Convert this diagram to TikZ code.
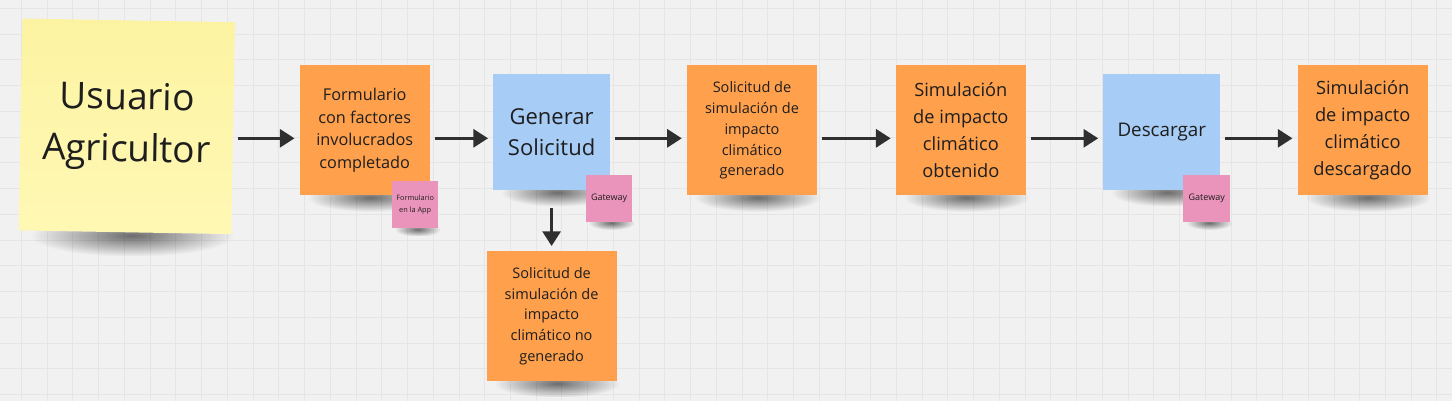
\documentclass[tikz,border=0pt]{standalone}
\usepackage{fontspec}
\setmainfont{Open Sans}
\usetikzlibrary{arrows.meta,fadings,calc}
\definecolor{bg}{HTML}{F1F1F1}
\definecolor{gridc}{HTML}{E5E5E5}
\definecolor{cyeltop}{HTML}{FCF3A2}
\definecolor{cyelbot}{HTML}{FFF8B4}
\definecolor{cora}{HTML}{FFA04C}
\definecolor{cblu}{HTML}{A7CCF5}
\definecolor{cpink}{HTML}{EA94BC}
\definecolor{ink}{HTML}{1E1E1E}
\definecolor{arrowc}{HTML}{2F2F2F}
\pgfdeclarelayer{bgl}
\pgfdeclarelayer{shadowl}
\pgfsetlayers{bgl,shadowl,main}
\tikzfading[name=softshadow, inner color=transparent!0, outer color=transparent!100]
\tikzset{
  note/.style={draw=none, inner sep=0pt, align=center, text=ink},
  onote/.style={note, fill=cora, minimum width=97.5pt, minimum height=97.5pt},
  bnote/.style={note, fill=cblu, minimum width=87.5pt, minimum height=87.5pt},
  pnote/.style={note, fill=cpink, minimum width=35pt, minimum height=35pt},
  shd/.style={fill=black, fill opacity=0.55, path fading=softshadow},
  flow/.style={draw=arrowc, line width=2.25pt,
    -{Triangle[length=11pt,width=13.5pt]}, shorten <=3.75pt, shorten >=3.75pt},
  fsmall/.style={font=\fontsize{10.9}{15.7}\selectfont},
  fmid/.style={font=\fontsize{13.7}{20.2}\selectfont},
}
\begin{document}
\begin{tikzpicture}[x=0.75pt,y=-0.75pt]
\begin{pgfonlayer}{bgl}
\fill[bg] (0,0) rectangle (1452,401);
\foreach \i in {0,...,55} \draw[gridc, line width=0.6pt] (21+\i*25.75,0) -- (21+\i*25.75,401);
\foreach \j in {0,...,15} \draw[gridc, line width=0.6pt] (0,8+\j*25.75) -- (1452,8+\j*25.75);
\end{pgfonlayer}
\useasboundingbox (0,0) rectangle (1452,401);

% main nodes
\node[note, top color=cyeltop, bottom color=cyelbot, minimum width=159.5pt, minimum height=159pt, rotate=-1,
  font=\fontsize{27.75}{39}\selectfont] (user) at (126.5,126) {Usuario\\Agricultor};
\node[onote, font=\fontsize{12.2}{16.9}\selectfont] (form) at (364.5,130)
  {Formulario\\con factores\\involucrados\\completado};
\node[bnote, font=\fontsize{16.5}{23}\selectfont] (gen) at (551.5,131.5) {Generar\\Solicitud};
\node[onote, fsmall] (solg) at (752,130)
  {Solicitud de\\simulación de\\impacto\\climático\\generado};
\node[onote, fmid] (simo) at (961,130)
  {Simulación\\de impacto\\climático\\obtenido};
\node[bnote, font=\fontsize{14.1}{20}\selectfont] (desc) at (1162,131.5) {Descargar};
\node[onote, fmid] (simd) at (1363,130)
  {Simulación\\de impacto\\climático\\descargado};
\node[onote, fsmall] (solng) at (551.5,316)
  {Solicitud de\\simulación de\\impacto\\climático no\\generado};

% small pink notes
\node[pnote, font=\fontsize{5.5}{8.8}\selectfont] (app) at (415,204.5) {Formulario\\en la App};
\node[pnote, font=\fontsize{6.75}{9}\selectfont] (gw1) at (609,198) {Gateway};
\node[pnote, font=\fontsize{6.75}{9}\selectfont] (gw2) at (1207,198) {Gateway};

% shadows
\begin{pgfonlayer}{shadowl}
\fill[shd] ($(user.south west)+(12,-16)$) rectangle ($(user.south east)+(2,22)$);
\foreach \n in {form,gen,solg,simo,desc,simd,solng}
  \fill[shd] ($(\n.south west)+(8,-12)$) rectangle ($(\n.south east)+(3,16)$);
\foreach \n in {app,gw1,gw2}
  \fill[shd] ($(\n.south west)+(3,-6)$) rectangle ($(\n.south east)+(2,8)$);
\end{pgfonlayer}

% connectors
\draw[flow] (user.east |- 0,138) -- (form.west |- 0,138);
\draw[flow] (form.east |- 0,138) -- (gen.west |- 0,138);
\draw[flow] (gen.east |- 0,138) -- (solg.west |- 0,138);
\draw[flow] (solg.east |- 0,138) -- (simo.west |- 0,138);
\draw[flow] (simo.east |- 0,138) -- (desc.west |- 0,138);
\draw[flow] (desc.east |- 0,138) -- (simd.west |- 0,138);
\draw[flow, shorten <=13.5pt] (gen.south) -- (solng.north);
\end{tikzpicture}
\end{document}
